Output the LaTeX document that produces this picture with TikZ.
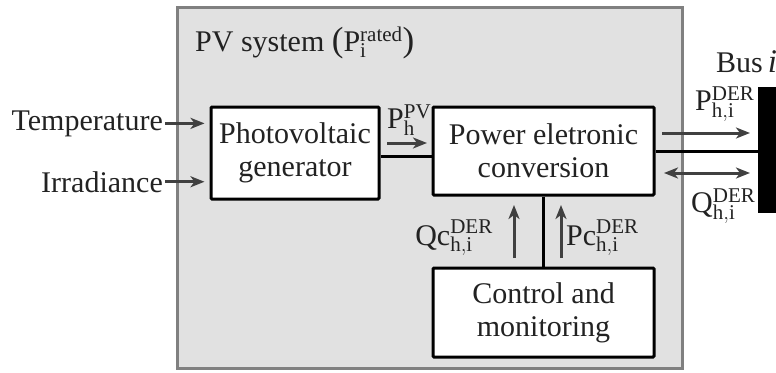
\documentclass[tikz,border=0pt]{standalone}
\usepackage{fontspec}
\setmainfont{Liberation Serif}
\setmathrm{Liberation Serif}
\usetikzlibrary{arrows.meta}
\definecolor{arrowgray}{HTML}{404040}
\definecolor{framegray}{HTML}{808080}
\definecolor{boxgray}{HTML}{E1E1E1}
\definecolor{textgray}{HTML}{222222}
\newcommand{\bigparen}[1]{{\fontsize{35}{35}\selectfont #1}}
\begin{document}
\begin{tikzpicture}[x=1pt,y=-1pt,font=\fontsize{30}{33}\selectfont,text=textgray]
\tikzstyle{block}=[draw, line width=3pt, fill=white, align=center, rounded corners=1pt, inner sep=0pt]
\tikzstyle{label}=[inner sep=2pt]
\tikzstyle{flow}=[draw=arrowgray, line width=3pt, -{Stealth[length=14pt,width=11pt,inset=4pt]}]
\tikzstyle{wire}=[draw, line width=3pt]
    \useasboundingbox (0,0) rectangle (776,372);

    \node[draw=framegray, fill=boxgray, line width=3pt, minimum width=505pt, minimum height=361pt] (pvsys) at (430,188) {};
    \node[label, anchor=base west] (title) at (193,51) {PV system \bigparen{(}$\mathrm{P}_{\mathrm{i}}^{\mathrm{rated}}$\bigparen{)}};

    \node[block, minimum width=168pt, minimum height=92pt] (gen) at (295,153) {Photovoltaic\\generator};
    \node[block, minimum width=221pt, minimum height=88pt] (conv) at (543.5,151) {Power eletronic\\conversion};
    \node[block, minimum width=221pt, minimum height=89pt] (ctrl) at (543.5,312.5) {Control and\\monitoring};
    \node[fill=black, inner sep=0pt, minimum width=22pt, minimum height=126pt] (bus) at (769,150) {};

    \node[label, anchor=base east] (temp) at (165,130) {Temperature};
    \node[label, anchor=base east] (irr) at (165,192) {Irradiance};
    \node[label, anchor=base west] (busname) at (714,72) {Bus\,{\fontsize{33}{33}\selectfont\textit{i}}};

    \node[label, anchor=base west] (pvlab) at (385,128) {$\mathrm{P}_{\mathrm{h}}^{\mathrm{PV}}$};
    \node[label, anchor=base west] (pderlab) at (693,110) {$\mathrm{P}_{\mathrm{h,i}}^{\mathrm{DER}}$};
    \node[label, anchor=base west] (qderlab) at (689,212) {$\mathrm{Q}_{\mathrm{h,i}}^{\mathrm{DER}}$};
    \node[label, anchor=base east] (qclab) at (495,245) {$\mathrm{Qc}_{\mathrm{h,i}}^{\mathrm{DER}}$};
    \node[label, anchor=base west] (pclab) at (564,245) {$\mathrm{Pc}_{\mathrm{h,i}}^{\mathrm{DER}}$};

    \coordinate (pva) at (387,143);
    \coordinate (pvb) at (427,143);
    \coordinate (pa) at (662,133);
    \coordinate (pb) at (750,133);
    \coordinate (qa) at (664,173);
    \coordinate (qb) at (750,173);
    \coordinate (qca) at (514,258);
    \coordinate (qcb) at (514,205);
    \coordinate (pca) at (561,258);
    \coordinate (pcb) at (561,205);

    \draw[flow, shorten >=5pt] (temp.east) -- (temp.east -| gen.west);
    \draw[flow, shorten >=5pt] (irr.east) -- (irr.east -| gen.west);

    \draw[wire] ([yshift=-3pt]gen.east) -- ([yshift=-3pt]gen.east -| conv.west);
    \draw[wire] (conv.east) -- (conv.east -| bus.west);
    \draw[wire] (conv.south) -- (ctrl.north);

    \draw[flow] (pva) -- (pvb);
    \draw[flow] (pa) -- (pb);
    \draw[flow, {Stealth[length=14pt,width=11pt,inset=4pt]}-{Stealth[length=14pt,width=11pt,inset=4pt]}] (qa) -- (qb);
    \draw[flow] (qca) -- (qcb);
    \draw[flow] (pca) -- (pcb);

\end{tikzpicture}
\end{document}
